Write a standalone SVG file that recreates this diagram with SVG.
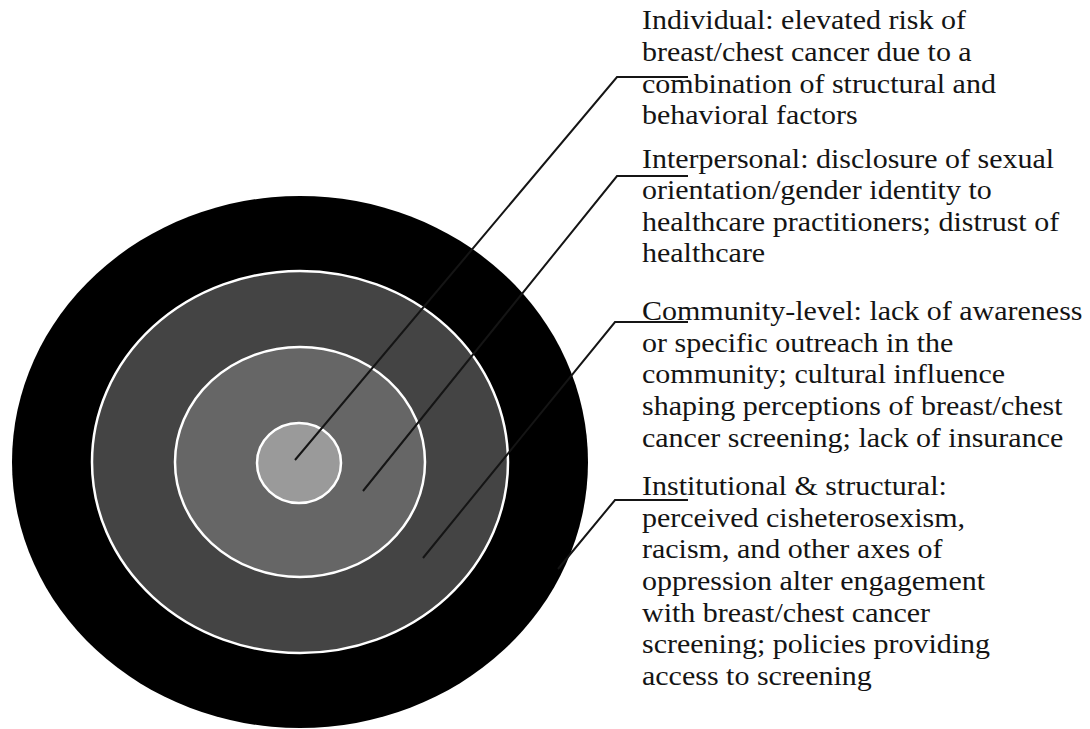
<svg xmlns="http://www.w3.org/2000/svg" width="1090" height="729" viewBox="0 0 1090 729">
  <style>
    .ring { stroke: #ffffff; stroke-width: 2.5; }
    .label { font-family: "Liberation Serif", "Times New Roman", serif; font-size: 30px; fill: #141414; }
    .leader { fill: none; stroke: #151515; stroke-width: 2; stroke-linejoin: miter; }
  </style>
  <rect width="1090" height="729" fill="#ffffff"/>

  <!-- Institutional & structural level: outermost black band -->
  <g id="level-institutional">
    <ellipse cx="300" cy="462" rx="288" ry="266" fill="#000000"/>
    <text class="label" transform="translate(642,495) scale(1,0.92)">
      <tspan x="0" y="0">Institutional &amp; structural:</tspan>
      <tspan x="0" y="34.4">perceived cisheterosexism,</tspan>
      <tspan x="0" y="68.8">racism, and other axes of</tspan>
      <tspan x="0" y="103.2">oppression alter engagement</tspan>
      <tspan x="0" y="137.6">with breast/chest cancer</tspan>
      <tspan x="0" y="172">screening; policies providing</tspan>
      <tspan x="0" y="206.4">access to screening</tspan>
    </text>
  </g>

  <!-- Community level -->
  <g id="level-community">
    <ellipse class="ring" cx="300" cy="462" rx="208" ry="191" fill="#444444"/>
    <text class="label" transform="translate(642,320) scale(1,0.92)">
      <tspan x="0" y="0">Community-level: lack of awareness</tspan>
      <tspan x="0" y="34.4">or specific outreach in the</tspan>
      <tspan x="0" y="68.8">community; cultural influence</tspan>
      <tspan x="0" y="103.2">shaping perceptions of breast/chest</tspan>
      <tspan x="0" y="137.6">cancer screening; lack of insurance</tspan>
    </text>
  </g>

  <!-- Interpersonal level -->
  <g id="level-interpersonal">
    <ellipse class="ring" cx="300" cy="462" rx="125" ry="115" fill="#666666"/>
    <text class="label" transform="translate(642,168) scale(1,0.92)">
      <tspan x="0" y="0">Interpersonal: disclosure of sexual</tspan>
      <tspan x="0" y="34.2">orientation/gender identity to</tspan>
      <tspan x="0" y="68.4">healthcare practitioners; distrust of</tspan>
      <tspan x="0" y="102.6">healthcare</tspan>
    </text>
  </g>

  <!-- Individual level: centre disc -->
  <g id="level-individual">
    <ellipse class="ring" cx="299" cy="463" rx="42" ry="40" fill="#9a9a9a"/>
    <text class="label" transform="translate(642,29) scale(1,0.92)">
      <tspan x="0" y="0">Individual: elevated risk of</tspan>
      <tspan x="0" y="34.6">breast/chest cancer due to a</tspan>
      <tspan x="0" y="69.2">combination of structural and</tspan>
      <tspan x="0" y="103.8">behavioral factors</tspan>
    </text>
  </g>

  <!-- Leader lines from each level to its label -->
  <g id="connectors">
    <polyline class="leader" points="295,460 617,77 688,77"/>
    <polyline class="leader" points="363,491 617,176 688,176"/>
    <polyline class="leader" points="423,558 615,322 688,322"/>
    <polyline class="leader" points="558,569 615,500 688,500"/>
  </g>
</svg>
